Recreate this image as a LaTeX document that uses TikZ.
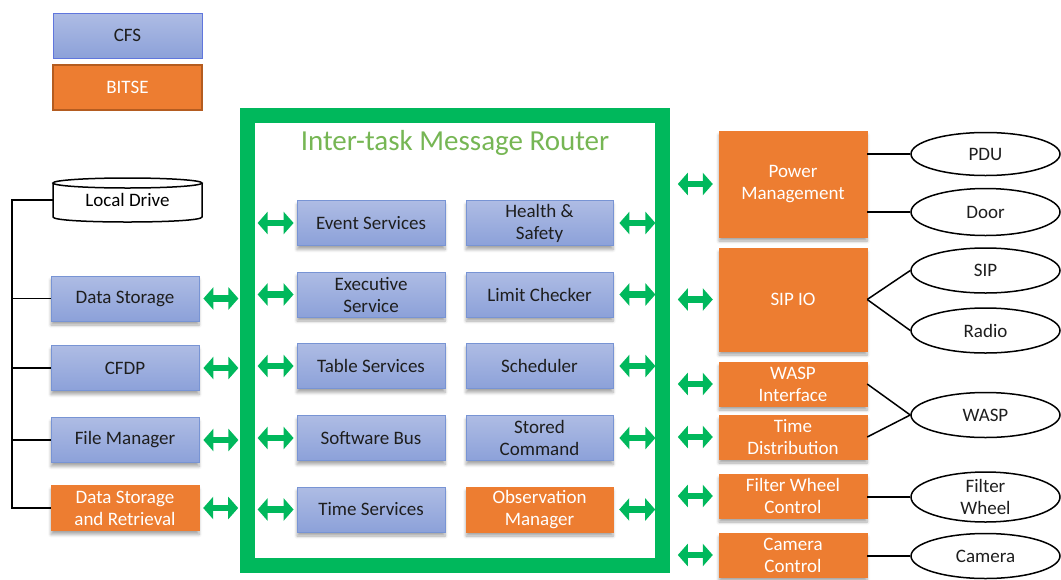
\documentclass[tikz,border=0pt]{standalone}
\usepackage{fontspec}
\setmainfont{Carlito}
\usetikzlibrary{arrows.meta,shadows,shadows.blur,positioning,shapes.geometric}
\definecolor{cfstop}{RGB}{174,188,228}
\definecolor{cfsbot}{RGB}{140,161,217}
\definecolor{cfsline}{RGB}{120,148,212}
\definecolor{bitse}{RGB}{237,125,49}
\definecolor{bitseline}{RGB}{180,92,32}
\definecolor{routergreen}{RGB}{0,184,92}
\definecolor{titlegreen}{RGB}{118,182,84}
\definecolor{txt}{RGB}{30,30,30}
\tikzset{
  boxtext/.style={font=\fontsize{19}{22}\selectfont, align=center, inner sep=0pt},
  softshadow/.style={blur shadow={shadow xshift=0pt, shadow yshift=-4pt, shadow blur radius=3pt, shadow blur steps=6, shadow opacity=35}},
  cfsbox/.style={boxtext, rectangle, minimum width=148pt, minimum height=45pt,
    top color=cfstop, bottom color=cfsbot, draw=cfsline, line width=0.8pt, text=txt, softshadow},
  bitsebox/.style={boxtext, rectangle, minimum width=148pt, minimum height=45pt,
    fill=bitse, draw=bitse, text=white, softshadow},
  device/.style={boxtext, ellipse, draw=black, line width=1.5pt, fill=white,
    minimum width=149pt, minimum height=45pt, text=txt},
  wire/.style={draw=black, line width=1.5pt},
  garrow/.style={draw=routergreen, line width=6.5pt,
    {Triangle[length=10pt,width=22pt]}-{Triangle[length=10pt,width=22pt]}},
}
\begin{document}
\begin{tikzpicture}[x=1pt,y=-1pt]
\useasboundingbox (0,0) rectangle (1061,579);

% legend
\node[boxtext, rectangle, minimum width=149pt, minimum height=45pt, top color=cfstop, bottom color=cfsbot, draw=cfsline!80!blue, line width=1pt, text=txt] (lcfs) at (127.5,35.5) {CFS};
\node[boxtext, rectangle, minimum width=149pt, minimum height=45pt, fill=bitse, draw=bitseline, line width=1.5pt, text=white] (lbitse) at (127.5,87.5) {BITSE};

% router frame
\node[rectangle, draw=routergreen, line width=15pt, minimum width=415pt, minimum height=450pt] (router) at (455,340.5) {};
\node[font=\fontsize{29}{32}\selectfont, text=titlegreen, inner sep=0pt] (title) at (455,143) {Inter-task Message Router};

% inner boxes
\node[cfsbox] (es) at (371,223) {Event Services};
\node[cfsbox] (exs) at (371,294.5) {Executive\\Service};
\node[cfsbox] (ts) at (371,366) {Table Services};
\node[cfsbox] (sb) at (371,438) {Software Bus};
\node[cfsbox] (tms) at (371,509.5) {Time Services};
\node[cfsbox, minimum width=147pt] (hs) at (539.5,223) {Health \&\\Safety};
\node[cfsbox, minimum width=147pt] (lc) at (539.5,294.5) {Limit Checker};
\node[cfsbox, minimum width=147pt] (sch) at (539.5,366) {Scheduler};
\node[cfsbox, minimum width=147pt] (sc) at (539.5,438) {Stored\\Command};
\node[bitsebox, minimum width=147pt] (om) at (539.5,509.5) {Observation\\Manager};

% left boxes
\node[boxtext, minimum width=149pt, minimum height=44pt] (ld) at (127.5,200) {\raisebox{-4pt}{Local Drive}};
\node[cfsbox] (ds) at (125,298.5) {Data Storage};
\node[cfsbox] (cfdp) at (125,368) {CFDP};
\node[cfsbox] (fm) at (125,440) {File Manager};
\node[bitsebox] (dsr) at (125,508) {Data Storage\\and Retrieval};

% local drive cylinder
\draw[line width=1.5pt] (53,183) -- (53,217) .. controls (53,223.67) and (202,223.67) .. (202,217) -- (202,183);
\draw[line width=1.5pt] (127.5,183) ellipse [x radius=74.5, y radius=5];

% right boxes
\node[bitsebox, minimum height=106pt] (pm) at (793,184) {Power\\Management};
\node[bitsebox, minimum height=103pt] (sipio) at (793,299.5) {SIP IO};
\node[bitsebox, minimum height=44pt] (wi) at (793,384) {WASP\\Interface};
\node[bitsebox, minimum height=44pt] (td) at (793,437) {Time\\Distribution};
\node[bitsebox, minimum height=44pt] (fwc) at (793,496) {Filter Wheel\\Control};
\node[bitsebox, minimum height=44pt] (cc) at (793,555) {Camera\\Control};

% devices
\node[device, minimum height=43pt] (pdu) at (985.5,154) {PDU};
\node[device, minimum height=47pt] (door) at (985.5,212) {Door};
\node[device] (sip) at (985.5,270.5) {SIP};
\node[device] (radio) at (985.5,330.5) {Radio};
\node[device] (wasp) at (985.5,415) {WASP};
\node[device, minimum height=50pt] (fw) at (985.5,497) {Filter\\Wheel};
\node[device] (cam) at (985.5,556) {Camera};

% left bus
\coordinate (bus) at (12,0);
\draw[wire] (ld.west) -| (bus |- dsr.west) -- (dsr.west);
\draw[wire] (ds.west) -- (ds.west -| bus);
\draw[wire] (cfdp.west) -- (cfdp.west -| bus);
\draw[wire] (fm.west) -- (fm.west -| bus);

% right wires
\draw[wire] (pdu.west) -- (pdu.west -| pm.east);
\draw[wire] (door.west) -- (door.west -| pm.east);
\draw[wire] (sipio.east) -- (sip.west);
\draw[wire] (sipio.east) -- (radio.west);
\draw[wire] (wi.east) -- (wasp.west);
\draw[wire] (td.east) -- (wasp.west);
\draw[wire] (fw.west) -- (fw.west -| fwc.east);
\draw[wire] (cam.west) -- (cam.west -| cc.east);

% green arrows: outer left
\foreach \n in {ds,cfdp,fm,dsr}
  \draw[garrow] ([xshift=4pt]\n.east) -- ([xshift=39pt]\n.east);
% inner left
\foreach \n in {es,exs,ts,sb,tms}
  \draw[garrow] ([xshift=-39pt]\n.west) -- ([xshift=-3pt]\n.west);
% inner right
\foreach \n in {hs,lc,sch,sc,om}
  \draw[garrow] ([xshift=6pt]\n.east) -- ([xshift=42pt]\n.east);
% outer right
\foreach \n in {pm,sipio,wi,td,fwc,cc}
  \draw[garrow] ([xshift=-41pt]\n.west) -- ([xshift=-6pt]\n.west);
\end{tikzpicture}
\end{document}
